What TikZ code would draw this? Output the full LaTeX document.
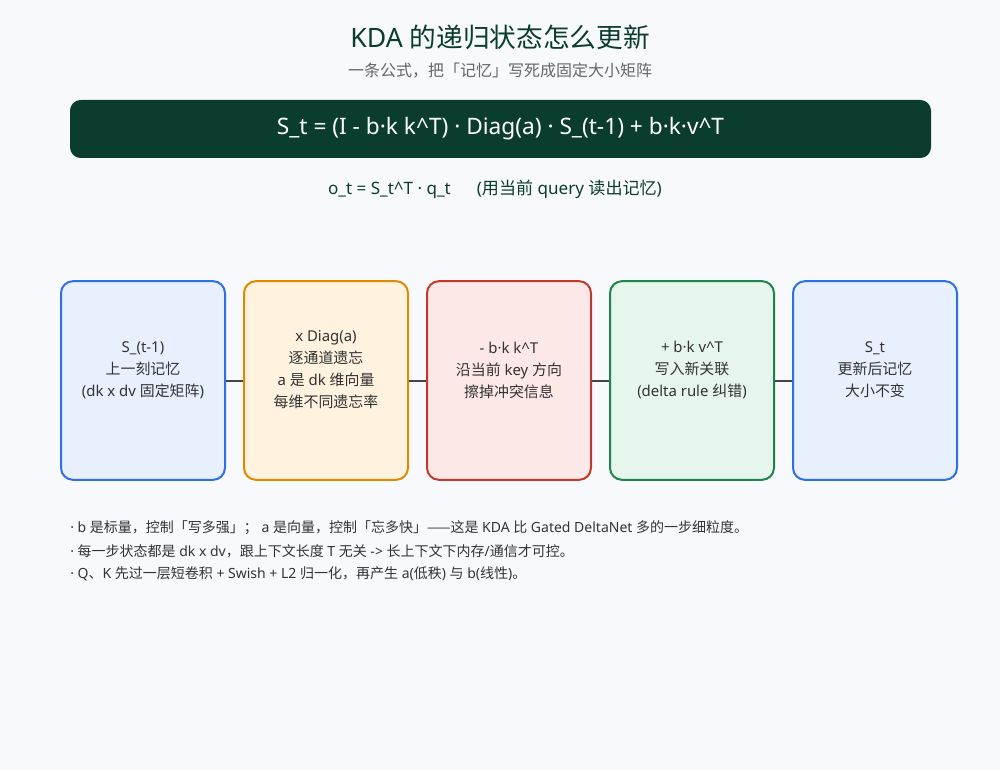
\documentclass[tikz,border=0pt]{standalone}
\usepackage{fontspec}
\setmainfont{Noto Sans}
\newfontfamily\cjkfont{Noto Sans CJK SC}
\newcommand\zh[1]{{\cjkfont #1}}
\definecolor{bg}{HTML}{F7F9FC}
\definecolor{dgreen}{HTML}{0B3D2E}
\definecolor{subgrey}{HTML}{666666}
\definecolor{txt}{HTML}{333333}
\definecolor{conn}{HTML}{444444}
\definecolor{bluefill}{HTML}{E8F0FE}
\definecolor{blueline}{HTML}{2F6FE4}
\definecolor{orfill}{HTML}{FFF3E0}
\definecolor{orline}{HTML}{E08A00}
\definecolor{redfill}{HTML}{FCE8E6}
\definecolor{redline}{HTML}{C0392B}
\definecolor{grfill}{HTML}{E6F6EC}
\definecolor{grline}{HTML}{1E8449}
\tikzset{
  stepbox/.style={draw, line width=1.5pt, rounded corners=9pt, minimum width=123pt, minimum height=149pt, inner sep=0pt},
  boxtext/.style={align=center, text=txt, font=\fontsize{11.2}{16.5}\selectfont, inner sep=0pt},
  noteline/.style={anchor=west, text=txt, font=\fontsize{10.5}{12}\selectfont, inner sep=0pt},
  link/.style={draw=conn, line width=1.5pt}
}
\begin{document}
\begin{tikzpicture}[x=0.75pt, y=-0.75pt]
\useasboundingbox (0,0) rectangle (1000,770);
\fill[bg] (0,0) rectangle (1000,770);
\node[text=dgreen, font=\fontsize{20}{24}\selectfont] (title) at (500,37) {KDA \zh{的递归状态怎么更新}};
\node[text=subgrey, font=\fontsize{12}{14}\selectfont] (subtitle) at (500,71) {\zh{一条公式，把「记忆」写死成固定大小矩阵}};
\node[fill=dgreen, rounded corners=8pt, minimum width=645.75pt, minimum height=43.5pt, inner sep=0pt,
      text=white, font=\fontsize{17}{20}\selectfont] (banner) at (500.5,129) {S\_t = (I - b·k k\^{}T) · Diag(a) · S\_(t-1) + b·k·v\^{}T};
\node[text=dgreen, font=\fontsize{12.8}{15}\selectfont] (readout) at (495,189) {o\_t = S\_t\^{}T · q\_t\quad\ \ (\zh{用当前} query \zh{读出记忆})};

\node[stepbox, fill=bluefill, draw=blueline] (b1) at (143,380.5) {};
\node[stepbox, fill=orfill, draw=orline] (b2) at (326,380.5) {};
\node[stepbox, fill=redfill, draw=redline] (b3) at (509,380.5) {};
\node[stepbox, fill=grfill, draw=grline] (b4) at (692,380.5) {};
\node[stepbox, fill=bluefill, draw=blueline] (b5) at (875,380.5) {};

\node[boxtext] (t1) at (143,370) {S\_(t-1)\\\zh{上一刻记忆}\\(dk x dv \zh{固定矩阵})};
\node[boxtext] (t2) at (326,370) {x Diag(a)\\\zh{逐通道遗忘}\\a \zh{是} dk \zh{维向量}\\\zh{每维不同遗忘率}};
\node[boxtext] (t3) at (509,370) {- b·k k\^{}T\\\zh{沿当前} key \zh{方向}\\\zh{擦掉冲突信息}};
\node[boxtext] (t4) at (692,370) {+ b·k v\^{}T\\\zh{写入新关联}\\(delta rule \zh{纠错})};
\node[boxtext] (t5) at (875,370) {S\_t\\\zh{更新后记忆}\\\zh{大小不变}};

\draw[link] (b1.east) -- (b2.west);
\draw[link] (b2.east) -- (b3.west);
\draw[link] (b3.east) -- (b4.west);
\draw[link] (b4.east) -- (b5.west);

\node[noteline] (n1) at (70,528) {· b \zh{是标量，控制「写多强」；} a \zh{是向量，控制「忘多快」——这是} KDA \zh{比} Gated DeltaNet \zh{多的一步细粒度。}};
\node[noteline] (n2) at (70,551) {· \zh{每一步状态都是} dk x dv\zh{，跟上下文长度} T \zh{无关} -> \zh{长上下文下内存}/\zh{通信才可控。}};
\node[noteline] (n3) at (70,574) {· Q\zh{、}K \zh{先过一层短卷积} + Swish + L2 \zh{归一化，再产生} a(\zh{低秩}) \zh{与} b(\zh{线性})\zh{。}};
\end{tikzpicture}
\end{document}
